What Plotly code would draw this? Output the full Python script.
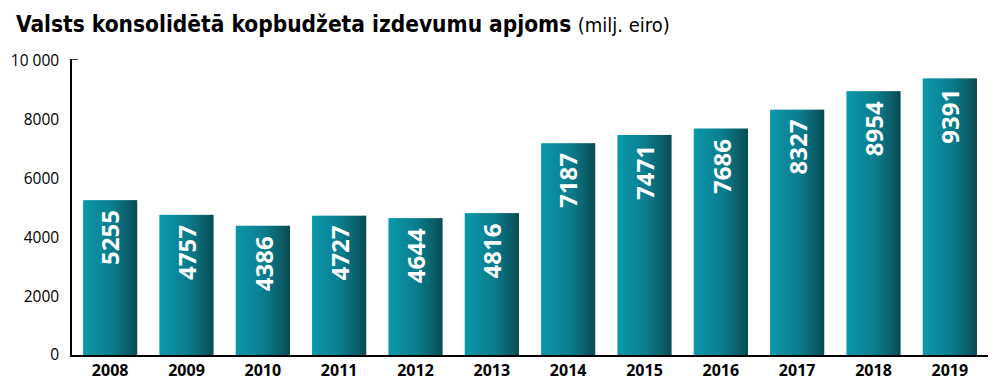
import plotly.graph_objects as go

years = ["2008", "2009", "2010", "2011", "2012", "2013", "2014", "2015", "2016", "2017", "2018", "2019"]
values = [5255, 4757, 4386, 4727, 4644, 4816, 7187, 7471, 7686, 8327, 8954, 9391]
y_ticks = [0, 2000, 4000, 6000, 8000, 10000]
y_tick_labels = ["0", "2000", "4000", "6000", "8000", "10 000"]

title_bold = "Valsts konsolidētā kopbudžeta izdevumu apjoms"
title_unit = "(milj. eiro)"

# horizontal gradient stops (left -> right)
stops = [(0.0, (12, 152, 172)), (0.55, (11, 124, 140)), (1.0, (9, 76, 84))]


def grad(t):
    for (t0, c0), (t1, c1) in zip(stops[:-1], stops[1:]):
        if t <= t1:
            f = (t - t0) / (t1 - t0) if t1 > t0 else 0
            return "rgb(%d,%d,%d)" % tuple(round(a + (b - a) * f) for a, b in zip(c0, c1))
    return "rgb(%d,%d,%d)" % stops[-1][1]


W = 0.71
N = 30
fig = go.Figure()
for i in range(N):
    w = W / N
    fig.add_trace(go.Bar(
        x=years, y=values,
        offset=-W / 2 + i * w,
        width=w * (1.6 if i < N - 1 else 1.0),
        marker=dict(color=grad((i + 0.5) / N), line=dict(width=0)),
        hoverinfo="skip", showlegend=False,
    ))

annotations = [dict(
    xref="paper", yref="paper", x=-58 / 916, y=1.0, yshift=50,
    xanchor="left", yanchor="top", showarrow=False,
    text="<b>" + title_bold + "</b> <span style='font-size:20px;font-weight:normal'>" + title_unit + "</span>",
    font=dict(family="DejaVu Sans Condensed", size=22.5, color="black"),
)]
for idx, v in enumerate(values):
    annotations.append(dict(
        x=idx, y=v, xref="x", yref="y", showarrow=False,
        text=str(v), textangle=-90, yanchor="top", xanchor="center", yshift=-8,
        font=dict(family="Open Sans", size=24, color="white", weight="bold"),
    ))

fig.update_layout(
    width=1000, height=392,
    barmode="overlay",
    plot_bgcolor="white", paper_bgcolor="white",
    margin=dict(l=72, r=12, t=59, b=37, autoexpand=False),
    xaxis=dict(
        type="category", range=[-0.5, 11.5], automargin=False,
        showline=True, linecolor="black", linewidth=1.5,
        ticks="", showgrid=False,
        tickfont=dict(family="Open Sans", size=16, color="black", weight="bold"),
    ),
    yaxis=dict(
        range=[0, 10050], tickvals=y_ticks, ticktext=y_tick_labels, automargin=False,
        showline=True, linecolor="black", linewidth=1.5,
        ticks="", showgrid=False, zeroline=False,
        tickfont=dict(family="Open Sans", size=15.5, color="black"),
        ticklabelstandoff=8,
    ),
    annotations=annotations,
    shapes=[dict(
        type="line", xref="paper", yref="y",
        xsizemode="pixel", xanchor=0, x0=0, x1=6,
        y0=10050, y1=10050, line=dict(color="black", width=1.5),
    )],
)

fig.write_html("out.html", config={"displayModeBar": False},
               post_script="document.body.style.margin='0';")
